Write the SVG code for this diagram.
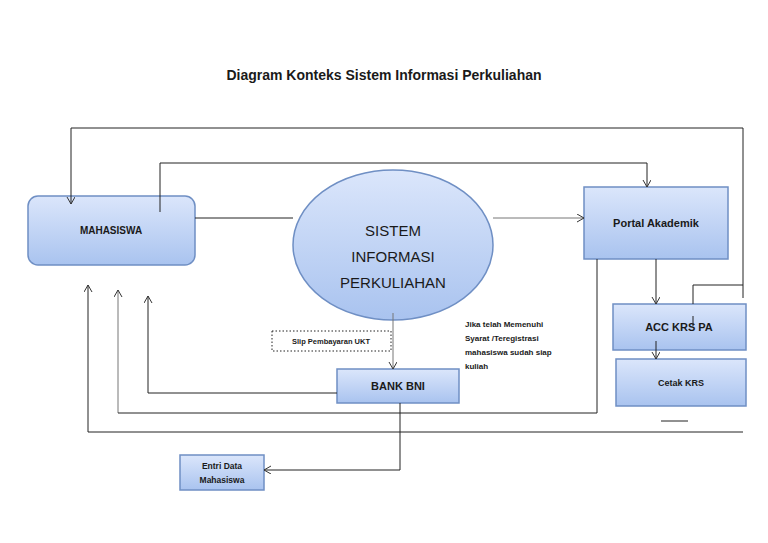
<svg xmlns="http://www.w3.org/2000/svg" width="768" height="543" viewBox="0 0 768 543">
<defs>
<linearGradient id="g" x1="0" y1="0" x2="0" y2="1"><stop offset="0" stop-color="#dbe6fb"/><stop offset="1" stop-color="#a9c3ef"/></linearGradient>
<marker id="a" markerWidth="10" markerHeight="10" refX="8" refY="4" orient="auto" markerUnits="userSpaceOnUse"><path d="M1,0 L8,4 L1,8" fill="none" stroke="#333" stroke-width="1"/></marker>
</defs>
<style>
.n{fill:url(#g);stroke:#6f8fc4;stroke-width:1.5}
.t{font-family:"Liberation Sans",Arial,sans-serif;font-weight:bold;fill:#1a1a1a;text-anchor:middle}
.c{fill:none;stroke:#222;stroke-width:1}
.gr{fill:none;stroke:#777;stroke-width:1}
</style>
<rect width="768" height="543" fill="#fff"/>
<text class="t" x="384" y="80" font-size="14">Diagram Konteks Sistem Informasi Perkuliahan</text>
<g id="mahasiswa"><rect class="n" x="28" y="196" width="167" height="69" rx="10"/><text class="t" x="111" y="234" font-size="10">MAHASISWA</text></g>
<g id="sistem"><ellipse class="n" cx="393" cy="245" rx="100" ry="75"/>
<text class="t" font-size="15" x="393" y="236" style="font-weight:normal">SISTEM</text>
<text class="t" font-size="15" x="393" y="262" style="font-weight:normal">INFORMASI</text>
<text class="t" font-size="15" x="393" y="288" style="font-weight:normal">PERKULIAHAN</text></g>
<g id="portal"><rect class="n" x="584" y="187" width="144" height="72"/><text class="t" x="656" y="227" font-size="11">Portal Akademik</text></g>
<g id="acc"><rect class="n" x="613" y="304" width="133" height="46"/><text class="t" x="679" y="331" font-size="11">ACC KRS PA</text></g>
<g id="cetak"><rect class="n" x="616" y="359" width="130" height="47"/><text class="t" x="681" y="386" font-size="9">Cetak KRS</text></g>
<g id="bank"><rect class="n" x="337" y="369" width="122" height="34"/><text class="t" x="398" y="390" font-size="11">BANK BNI</text></g>
<g id="entri"><rect class="n" x="180" y="455" width="84" height="35"/><text class="t" x="222" y="469" font-size="8.5">Entri Data</text><text class="t" x="222" y="483" font-size="8.5">Mahasiswa</text></g>
<g id="connectors">
<path class="c" d="M743,298 V128 H71 V204" marker-end="url(#a)"/>
<path class="c" d="M160,212 V163 H647 V187" marker-end="url(#a)"/>
<path class="c" d="M195,218 H293"/>
<path class="gr" d="M493,218 H584" marker-end="url(#a)"/>
<path class="c" d="M656,259 V304" marker-end="url(#a)"/>
<path class="c" d="M693,304 V285 H743"/>
<path class="c" d="M693,316 V326"/>
<path class="c" d="M656,341 V359" marker-end="url(#a)"/>
<path class="gr" d="M393,313 V369" marker-end="url(#a)"/>
<path class="c" d="M337,393 H148 V296" marker-end="url(#a)"/>
<path class="gr" d="M118,413 V290" marker-end="url(#a)"/>
<path class="c" d="M118,413 H597 V259"/>
<path class="c" d="M88,432 V285" marker-end="url(#a)"/>
<path class="c" d="M88,432 H743"/>
<path class="c" d="M661,421 H688"/>
<path class="c" d="M400,403 V470 H264" marker-end="url(#a)"/>
</g>
<g id="slip"><rect x="272" y="331" width="119" height="20" fill="#fff" stroke="#222" stroke-dasharray="1.5,2"/><text class="t" x="331" y="344" font-size="7.5">Slip Pembayaran UKT</text></g>
<g id="note" font-family="Liberation Sans,Arial,sans-serif" font-weight="bold" font-size="8" fill="#1a1a1a">
<text x="465" y="327">Jika telah Memenuhi</text><text x="465" y="341">Syarat /Teregistrasi</text><text x="465" y="355">mahasiswa sudah siap</text><text x="465" y="369">kuliah</text></g>
</svg>
